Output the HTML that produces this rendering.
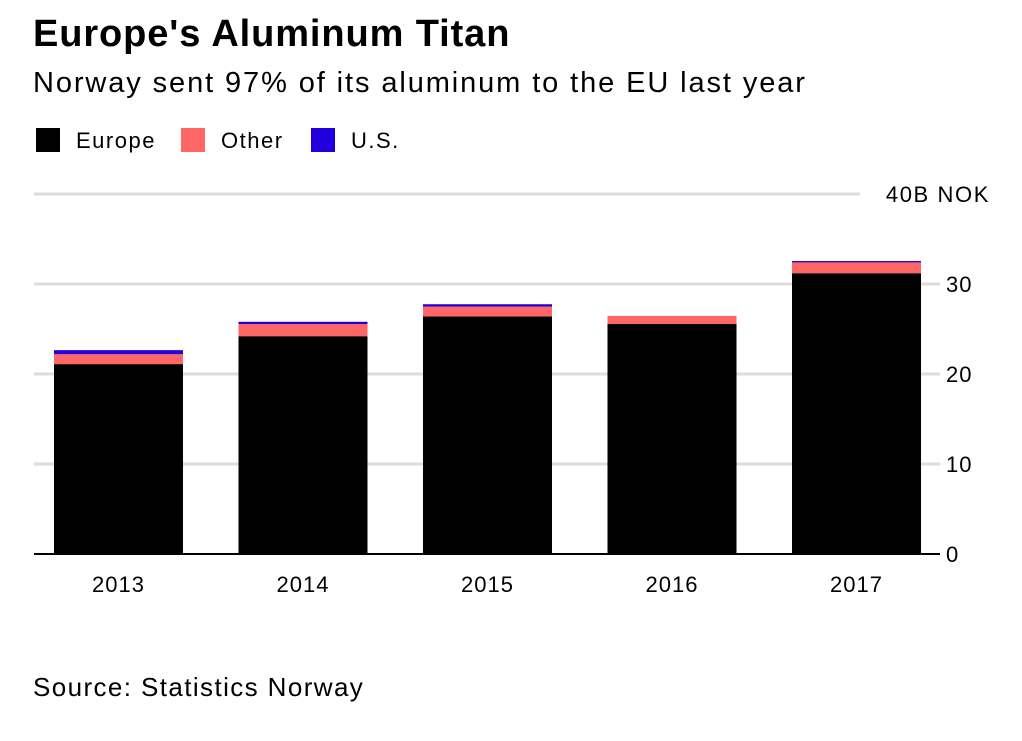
<!DOCTYPE html>
<html><head><meta charset="utf-8"><style>
body{margin:0;width:1022px;height:741px;background:#fff;font-family:"Liberation Sans",sans-serif;position:relative;overflow:hidden}
.t{position:absolute;white-space:nowrap}
</style></head><body>
<div class="t" style="left:33px;top:13px;font-size:38px;font-weight:bold;letter-spacing:0.9px">Europe's Aluminum Titan</div>
<div class="t" style="left:33px;top:67px;font-size:29px;letter-spacing:1.9px">Norway sent 97% of its aluminum to the EU last year</div>
<div>
<div class="t" style="left:36px;top:128px;font-size:22px;letter-spacing:1.5px"><span style="display:inline-block;width:24px;height:24px;background:#000;vertical-align:-4px;margin-right:16px"></span>Europe</div>
<div class="t" style="left:181px;top:128px;font-size:22px;letter-spacing:1.5px"><span style="display:inline-block;width:24px;height:24px;background:#ff6666;vertical-align:-4px;margin-right:16px"></span>Other</div>
<div class="t" style="left:311px;top:128px;font-size:22px;letter-spacing:1.5px"><span style="display:inline-block;width:24px;height:24px;background:#2200dd;vertical-align:-4px;margin-right:16px"></span>U.S.</div>
</div>
<svg id="c" width="1022" height="741" style="position:absolute;left:0;top:0"></svg>
<div class="t" style="left:33px;top:672px;font-size:26px;letter-spacing:1.4px">Source: Statistics Norway</div>
<script>
const categories=["2013","2014","2015","2016","2017"];
const europe=[21.1,24.2,26.4,25.55,31.2];
const other=[1.1,1.35,1.1,0.9,1.2];
const us=[0.45,0.25,0.25,0,0.15];
const ticks=[0,10,20,30,40];
const tickLabels=["0","10","20","30","40B NOK"];
const svg=document.getElementById('c');
const NS="http://www.w3.org/2000/svg";
const y0=554,ppu=9,x0=34,step=184.5,bw=129,off=20;
const y=v=>y0-v*ppu;
const x=i=>x0+off+i*step;
function mk(t,a){const e=document.createElementNS(NS,t);for(const k in a)e.setAttribute(k,a[k]);svg.appendChild(e);return e;}
ticks.forEach((t,i)=>{
 const last=i===ticks.length-1;
 if(i>0){const g=mk('line',{x1:x0,x2:last?860:940,y1:y(t),y2:y(t),stroke:'#dcdcdc','stroke-width':3});
 
 }
 const tx=mk('text',{x:last?990:946,y:y(t)+8,'font-size':22,'letter-spacing':last?'1.6':'1','text-anchor':last?'end':'start','font-family':'Liberation Sans, sans-serif'});
 tx.textContent=tickLabels[i];
 
 
});
categories.forEach((c,i)=>{
 let base=0;
 [[europe,'#000','europe'],[other,'#ff6666','other'],[us,'#2200dd','us']].forEach(([arr,col,n])=>{
  const v=arr[i];if(v>0){const r=mk('rect',{x:x(i),y:y(base+v),width:bw,height:v*ppu,fill:col});
  
  }
  base+=v;
 });
 const l=mk('text',{x:x(i)+bw/2,y:592,'font-size':22,'letter-spacing':'1','text-anchor':'middle','font-family':'Liberation Sans, sans-serif'});
 l.textContent=c;
 
 
});
const ax=mk('line',{x1:x0,x2:940,y1:y0,y2:y0,stroke:'#000','stroke-width':2});


</script>
</body></html>
